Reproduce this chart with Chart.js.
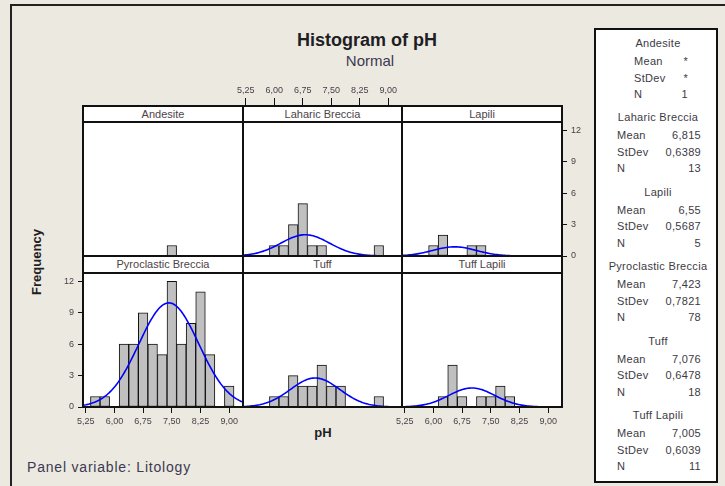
<!DOCTYPE html>
<html>
<head>
<meta charset="utf-8">
<title>Histogram of pH</title>
<script src="https://cdn.jsdelivr.net/npm/chart.js@4.4.1/dist/chart.umd.min.js"></script>
<style>
  html, body { margin: 0; padding: 0; }
  body {
    width: 725px; height: 486px; position: relative; overflow: hidden;
    background: #ece9e1; font-family: "Liberation Sans", Arial, sans-serif; color: #333;
  }
  .edge { position: absolute; left: 10px; top: 4px; width: 740px; height: 500px;
          border-top: 2px solid #222; border-left: 2px solid #222; }
  .plotbg { position: absolute; background: #fff; z-index: 0; }
  canvas { position: absolute; z-index: 1; }
  .frame { position: absolute; box-sizing: border-box; border: 2px solid #111; z-index: 3; pointer-events: none; }
  .strip { position: absolute; box-sizing: border-box; border: 2px solid #111; background: #fff; z-index: 4;
           font-size: 11px; line-height: 12px; text-align: center; color: #4d4348; }
  .txt { position: absolute; white-space: nowrap; }
  #legend { position: absolute; left: 594px; top: 28px; width: 124px; height: 455px; box-sizing: border-box;
            background: #fff; border: 2px solid #111; }
  .lg { position: absolute; font-size: 11px; line-height: 14px; letter-spacing: 0.3px; color: #3d3a44; white-space: nowrap; }
</style>
</head>
<body>
<div class="edge"></div>
<div class="txt" style="left:367px;top:40px;transform:translate(-50%,-50%);font-size:18px;font-weight:bold;color:#1e1e24;">Histogram of pH</div>
<div class="txt" style="left:370px;top:60px;transform:translate(-50%,-50%);font-size:15px;color:#3b3a50;">Normal</div>
<div class="txt" style="left:36px;top:262px;transform:translate(-50%,-50%) rotate(-90deg);font-size:13px;font-weight:bold;color:#1e1e24;">Frequency</div>
<div class="txt" style="left:323px;top:432px;transform:translate(-50%,-50%);font-size:13px;font-weight:bold;color:#1e1e24;">pH</div>
<div class="txt" style="left:27px;top:467px;transform:translateY(-50%);font-size:14px;letter-spacing:0.8px;color:#3b3a50;">Panel variable: Litology</div>
<div id="legend"></div>

<script>
// histogram bins (midpoints, width 0.25)
const binMids = [5.5, 5.75, 6.0, 6.25, 6.5, 6.75, 7.0, 7.25, 7.5, 7.75, 8.0, 8.25, 8.5, 8.75, 9.0];
const binWidth = 0.25;

// counts per bin
const andesite    = [0, 0, 0, 0, 0, 0, 0, 0, 1, 0, 0, 0, 0, 0, 0];
const laharic     = [0, 0, 1, 1, 3, 5, 1, 1, 0, 0, 0, 0, 0, 1, 0];
const lapili      = [0, 0, 1, 2, 0, 0, 1, 1, 0, 0, 0, 0, 0, 0, 0];
const pyroclastic = [1, 1, 0, 6, 6, 9, 6, 5, 12, 6, 8, 11, 5, 0, 2];
const tuff        = [0, 0, 1, 1, 3, 2, 2, 4, 2, 2, 0, 0, 0, 1, 0];
const tuffLapili  = [0, 0, 0, 1, 4, 1, 0, 1, 1, 2, 1, 0, 0, 0, 0];

// groups and the fitted normal parameters from the legend
const groups = ['Andesite', 'Laharic Breccia', 'Lapili', 'Pyroclastic Breccia', 'Tuff', 'Tuff Lapili'];
const means  = [null, 6.815, 6.55, 7.423, 7.076, 7.005];
const stdevs = [null, 0.6389, 0.5687, 0.7821, 0.6478, 0.6039];
const ns     = [1, 13, 5, 78, 18, 11];

// axes
const xTicks = [5.25, 6.0, 6.75, 7.5, 8.25, 9.0];
const yTicks = [0, 3, 6, 9, 12];
const XMIN = 5.18, XMAX = 9.36, YMAX = 12.8;

const countsByGroup = [andesite, laharic, lapili, pyroclastic, tuff, tuffLapili];

// panel layout (pixels)
const colLeft = [83, 243, 402];
const colWidth = [160, 159, 160];
const stripTop = [106, 256];
const plotTop = [122, 273];
const plotHeight = [134, 134];

const panels = [
    { col: 0, row: 0 },
    { col: 1, row: 0, top: true },
    { col: 2, row: 0, right: true },
    { col: 0, row: 1, left: true, bottom: true },
    { col: 1, row: 1 },
    { col: 2, row: 1, bottom: true }
];

const tickFont = { family: '"Liberation Sans Narrow", "Liberation Sans", Arial, sans-serif', size: 9 };
const tickColor = '#4a4048';

function comma(v) {
    return String(v).replace('.', ',');
}

// fitted normal density scaled to counts (N * bin width * pdf)
function normalCurve(mean, sd, n) {
    const pts = [];
    for (let x = XMIN; x <= XMAX + 1e-9; x += 0.04) {
        const z = (x - mean) / sd;
        pts.push({ x: x, y: n * binWidth * Math.exp(-0.5 * z * z) / (sd * Math.sqrt(2 * Math.PI)) });
    }
    return pts;
}

function addDiv(cls, l, t, w, h, text) {
    const d = document.createElement('div');
    d.className = cls;
    d.style.left = l + 'px';
    d.style.top = t + 'px';
    d.style.width = w + 'px';
    d.style.height = h + 'px';
    if (text) d.textContent = text;
    document.body.appendChild(d);
    return d;
}

panels.forEach(function(p, k) {
    const L = colLeft[p.col], W = colWidth[p.col];
    const T = plotTop[p.row], H = plotHeight[p.row];
    const sT = stripTop[p.row];

    addDiv('plotbg', L, T, W, H);
    addDiv('frame', L - 1, T - 1, W + 2, H + 2);
    const strip = addDiv('strip', L - 1, sT - 1, W + 2, T - sT + 2, groups[k]);
    strip.style.lineHeight = (T - sT - 2) + 'px';

    // axis boxes plus room for labels that hang past the plot edges
    const aL = p.left ? 24 : 0, aR = p.right ? 24 : 0;
    const aT = p.top ? 40 : 0, aB = p.bottom ? 22 : 0;
    const padX = (p.top || p.bottom) ? 16 : 0;
    const padY = (p.left || p.right) ? 8 : 0;

    const canvas = document.createElement('canvas');
    canvas.width = W + aL + aR + 2 * padX;
    canvas.height = H + aT + aB + 2 * padY;
    canvas.style.left = (L - aL - padX) + 'px';
    canvas.style.top = (T - aT - padY) + 'px';
    document.body.appendChild(canvas);

    const datasets = [{
        type: 'bar',
        data: binMids.map((m, i) => ({ x: m, y: countsByGroup[k][i] })),
        backgroundColor: '#c0c0c0',
        borderColor: '#111',
        borderWidth: 1,
        borderSkipped: false,
        barPercentage: 1,
        categoryPercentage: 1,
        grouped: false,
        order: 2
    }];
    if (means[k] !== null) {
        datasets.unshift({
            type: 'line',
            data: normalCurve(means[k], stdevs[k], ns[k]),
            borderColor: '#0000ff',
            borderWidth: 1.6,
            pointRadius: 0,
            tension: 0,
            fill: false,
            order: 1
        });
    }

    new Chart(canvas.getContext('2d'), {
        type: 'bar',
        data: { datasets: datasets },
        options: {
            responsive: false,
            animation: false,
            events: [],
            layout: { padding: { left: padX, right: padX, top: padY, bottom: padY } },
            plugins: { legend: { display: false }, tooltip: { enabled: false } },
            scales: {
                x: {
                    type: 'linear',
                    display: !!(p.top || p.bottom),
                    position: p.top ? 'top' : 'bottom',
                    min: XMIN,
                    max: XMAX,
                    offset: false,
                    afterBuildTicks: s => { s.ticks = xTicks.map(v => ({ value: v })); },
                    afterFit: s => { s.height = p.top ? aT : aB; s.paddingLeft = 0; s.paddingRight = 0; },
                    grid: { offset: false, drawOnChartArea: false, drawTicks: true, tickLength: p.top ? 24 : 6, color: '#111', lineWidth: 1 },
                    border: { display: false },
                    ticks: {
                        autoSkip: false, maxRotation: 0, padding: p.top ? 2 : 3,
                        font: tickFont, color: tickColor,
                        callback: v => comma(v.toFixed(2))
                    }
                },
                y: {
                    type: 'linear',
                    display: !!(p.left || p.right),
                    position: p.right ? 'right' : 'left',
                    min: 0,
                    max: YMAX,
                    afterBuildTicks: s => { s.ticks = yTicks.map(v => ({ value: v })); },
                    afterFit: s => { s.width = p.right ? aR : aL; s.paddingTop = 0; s.paddingBottom = 0; },
                    grid: { drawOnChartArea: false, drawTicks: true, tickLength: 5, color: '#111', lineWidth: 1 },
                    border: { display: false },
                    ticks: {
                        autoSkip: false, padding: 4,
                        font: tickFont, color: tickColor,
                        callback: v => String(v)
                    }
                }
            }
        }
    });
});

// legend box with the fitted parameters
const legend = document.getElementById('legend');
function lgText(text, x, y, align) {
    const s = document.createElement('div');
    s.className = 'lg';
    s.textContent = text;
    s.style.top = (y - 28 - 7) + 'px';
    s.style.left = (x - 594) + 'px';
    if (align === 'center') {
        s.style.transform = 'translateX(-50%)';
    } else if (align === 'right') {
        s.style.transform = 'translateX(-100%)';
    }
    legend.appendChild(s);
}

groups.forEach(function(g, k) {
    const y0 = 41 + 74.4 * k;
    const single = means[k] === null;
    const lx = single ? 632 : 615;
    const vx = single ? 686 : 699;
    lgText(g, 656, y0, 'center');
    lgText('Mean', lx, y0 + 18, 'left');
    lgText(single ? '*' : comma(means[k]), vx, y0 + 18, 'right');
    lgText('StDev', lx, y0 + 34.5, 'left');
    lgText(single ? '*' : comma(stdevs[k]), vx, y0 + 34.5, 'right');
    lgText('N', lx, y0 + 51, 'left');
    lgText(String(ns[k]), vx, y0 + 51, 'right');
});
</script>
</body>
</html>
